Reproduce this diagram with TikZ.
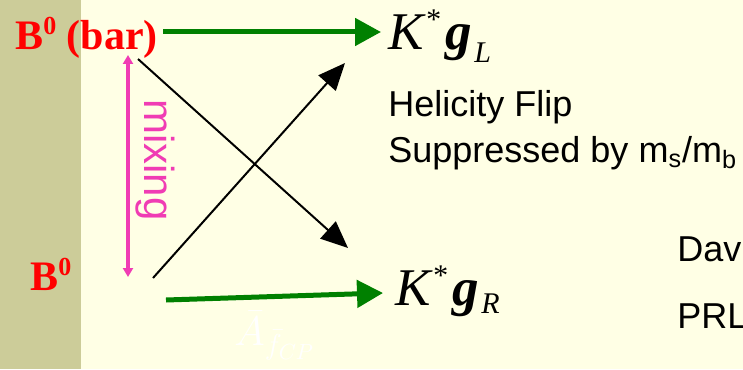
\documentclass[tikz,border=0pt]{standalone}
\usepackage{fontspec}
\setmainfont{Liberation Serif}
\setsansfont{Liberation Sans}
\usetikzlibrary{arrows.meta}
\definecolor{slidebg}{HTML}{FFFFE5}
\definecolor{slidebar}{HTML}{CCCC99}
\definecolor{decaygreen}{HTML}{008000}
\definecolor{mixpink}{HTML}{F03CB4}

% K^* gamma_X with hand-placed star and subscript
\newcommand{\kgam}[2]{K\kern0.5pt\raisebox{10pt}{\fontsize{15}{15}\selectfont *}\kern3pt{\bfseries g}\kern1pt\raisebox{#2}{\fontsize{15}{15}\selectfont #1}}
\newcommand{\supzero}{\raisebox{7.5pt}{\fontsize{13}{13}\selectfont 0}}

\begin{document}
\begin{tikzpicture}[x=0.5pt, y=-0.5pt, >={Triangle[length=13pt, width=13.5pt]},
  meson/.style={inner sep=0, text=red, font=\fontsize{21}{25}\selectfont\bfseries},
  final/.style={inner sep=0, font=\fontsize{26.5}{30}\selectfont\itshape},
  note/.style={inner sep=0, font=\fontsize{18}{22}\selectfont\sffamily},
  decay/.style={->, decaygreen, line width=2.5pt},
  cross/.style={-{Triangle[length=13.5pt, width=11.5pt]}, line width=1pt}]
  \clip (0,0) rectangle (743,369);
  \fill[slidebg] (0,0) rectangle (743,369);
  \fill[slidebar] (0,0) rectangle (81,369);

  % initial states
  \node[meson, anchor=base west] (bbar) at (15,50) {B\supzero{} (bar)};
  \node[meson, anchor=base west] (bzero) at (30,290) {B\supzero};

  % final states
  \node[final, anchor=base west] (kgl) at (388,50) {\kgam{L}{-6.5pt}};
  \node[final, anchor=base west] (kgr) at (395,305) {\kgam{R}{-4pt}};

  % comments on the right
  \node[note, anchor=base west] (flip) at (388,116) {Helicity Flip};
  \node[note, anchor=base west] (supp) at (388,162) {Suppressed by m\textsubscript{s}/m\textsubscript{b}};
  \node[note, anchor=base west] (dav) at (677,261) {Dav};
  \node[note, anchor=base west] (prl) at (677,328) {PRL};
  \node[inner sep=0, anchor=base west, text=white, font=\fontsize{22}{22}\selectfont] (acp) at (234,345) {$\bar{A}_{\bar{f}_{CP}}$};

  % arrow ends
  \coordinate (bbarR) at (163,32);
  \coordinate (kglL) at (381,32);
  \coordinate (bzeroR) at (166,300);
  \coordinate (kgrL) at (383,293);
  \coordinate (bbarX) at (138,59);
  \coordinate (kgrX) at (348,248);
  \coordinate (bzeroX) at (153,278);
  \coordinate (kglX) at (345,63);
  \coordinate (mixtop) at (128,55);
  \coordinate (mixbot) at (128,277);

  \draw[decay] (bbarR) -- (kglL);
  \draw[decay] (bzeroR) -- (kgrL);
  \draw[cross] (bbarX) -- (kgrX);
  \draw[cross] (bzeroX) -- (kglX);
  \draw[mixpink, line width=2.2pt, {Triangle[length=4.5pt, width=5pt]}-{Triangle[length=4.5pt, width=5pt]}] (mixtop) -- (mixbot);
  \node[note, text=mixpink, rotate=-90, font=\fontsize{21}{24}\selectfont\sffamily] (mix) at (155,160) {mixing};
\end{tikzpicture}
\end{document}
